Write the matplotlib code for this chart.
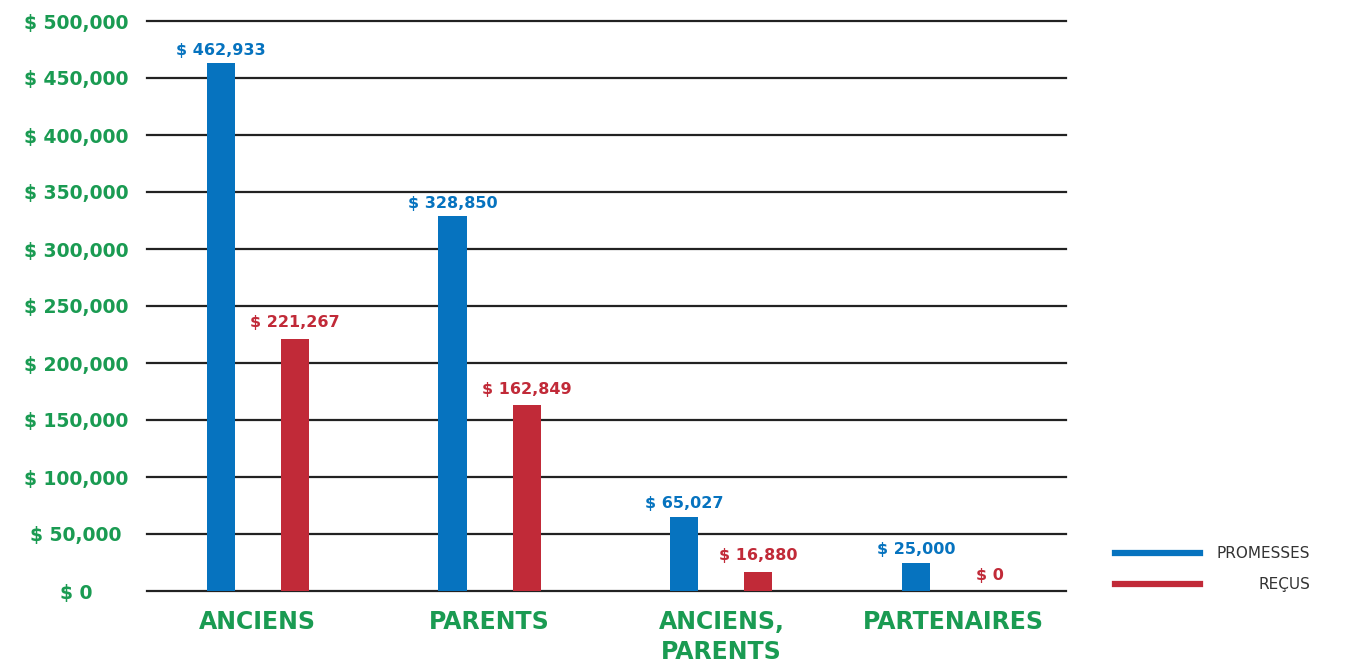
import numpy as np
import matplotlib.pyplot as plt
from matplotlib.lines import Line2D

# donnees
categories = ["ANCIENS", "PARENTS", "ANCIENS,\nPARENTS", "PARTENAIRES"]
promesses = [462933, 328850, 65027, 25000]
recus = [221267, 162849, 16880, 0]
yticks = list(range(0, 500001, 50000))

bleu = "#0673bf"
rouge = "#c12a38"
vert = "#1a9b52"

plt.rcParams["font.family"] = ["DejaVu Sans"]

fig = plt.figure(figsize=(13.45, 6.64), dpi=100)
ax = fig.add_axes([147 / 1345, 1 - 591 / 664, (1066 - 147) / 1345, (591 - 21) / 664])

x = np.arange(len(categories))
w = 0.121
d = 0.16
b1 = ax.bar(x - d, promesses, w, color=bleu, zorder=3)
b2 = ax.bar(x + d, recus, w, color=rouge, zorder=3)

fmt = lambda v: "$ {:,.0f}".format(v)
ax.bar_label(b1, labels=[fmt(v) for v in promesses], padding=4, color=bleu,
             fontsize=11.5, fontweight="bold")
ax.bar_label(b2, labels=[fmt(v) for v in recus], padding=6, color=rouge,
             fontsize=11.5, fontweight="bold")

ax.set_xlim(-0.478, 3.487)
ax.set_ylim(0, 500000)
ax.set_yticks(yticks)
ax.set_yticklabels([fmt(v) for v in yticks], ha="center", color=vert,
                   fontsize=13.5, fontweight="bold")
ax.set_xticks(x)
ax.set_xticklabels(categories, color=vert, fontsize=17, fontweight="bold",
                   linespacing=1.3)
ax.tick_params(axis="y", length=0, pad=51)
ax.tick_params(axis="x", length=0, pad=14)
for s in ax.spines.values():
    s.set_visible(False)
ax.yaxis.grid(True, color="#222222", linewidth=1.6)
ax.set_axisbelow(True)
for gl in ax.get_ygridlines():
    gl.set_clip_on(False)

# legende
W, H = 1345, 664
for yy, c, lab in [(553, bleu, "PROMESSES"), (584, rouge, "REÇUS")]:
    fig.add_artist(Line2D([1115 / W, 1200 / W], [1 - yy / H, 1 - yy / H],
                          color=c, linewidth=4.5))
    fig.text(1310 / W, 1 - yy / H, lab, ha="right", va="center",
             fontsize=11, color="#333333")

fig.savefig("out.png", dpi=100)
